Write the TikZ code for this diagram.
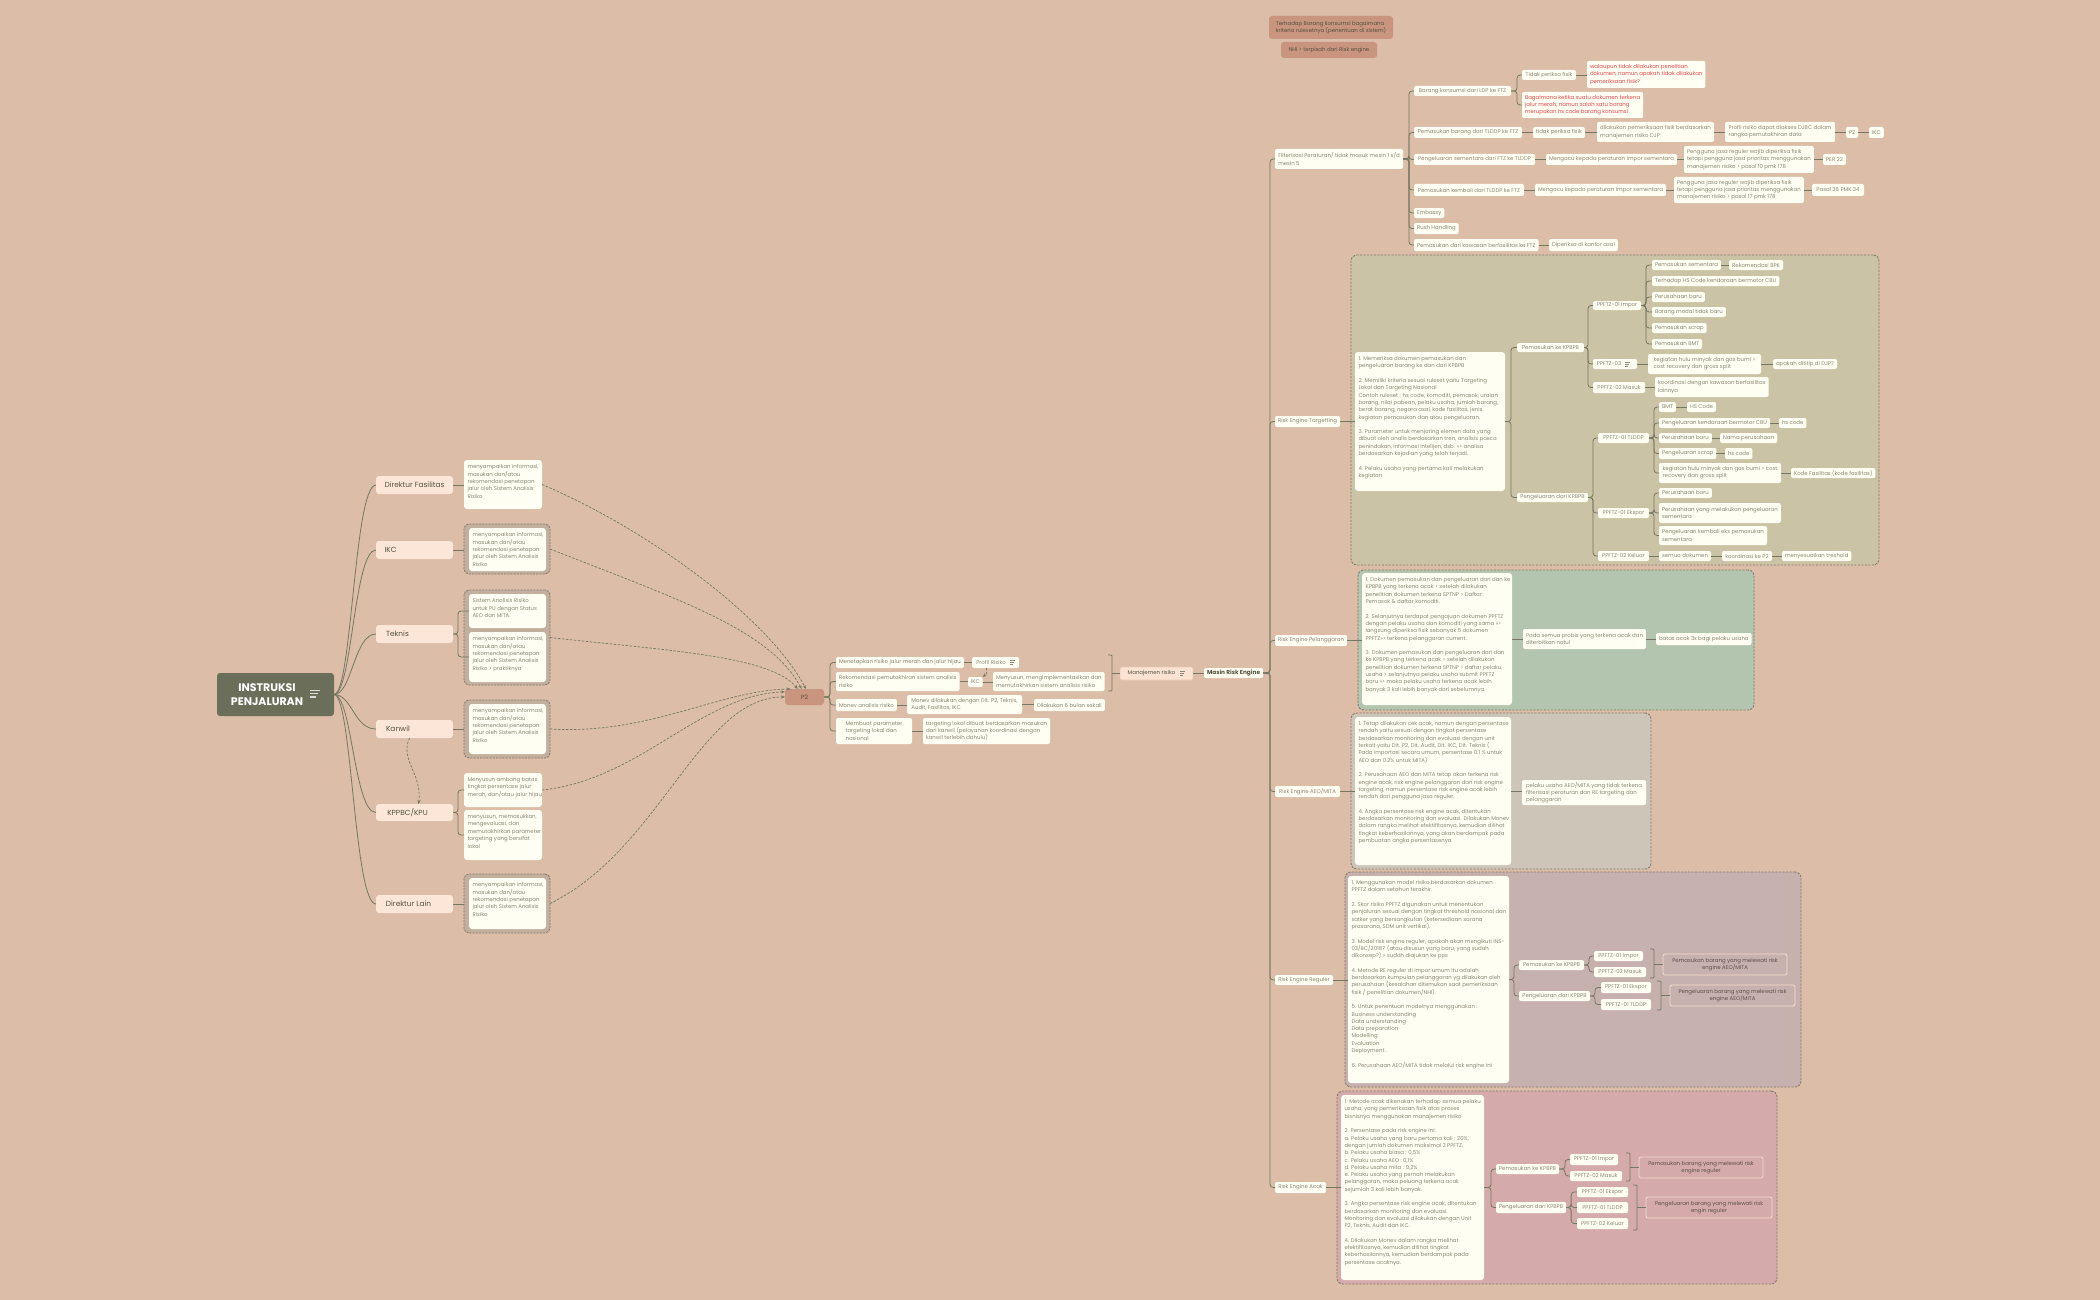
\documentclass[tikz,border=0pt]{standalone}
\usepackage{fontspec}
\setmainfont{Poppins}
\usetikzlibrary{arrows.meta}
\definecolor{bg}{HTML}{DBBDA8}
\definecolor{rootc}{HTML}{6B6F5A}
\definecolor{peach}{HTML}{FCE6D8}
\definecolor{cream}{HTML}{FFFEF2}
\definecolor{framec}{HTML}{C3AF9D}
\definecolor{framed}{HTML}{857B6C}
\definecolor{salmon}{HTML}{C9957E}
\definecolor{conn}{HTML}{767862}
\definecolor{txt}{HTML}{8A8876}
\definecolor{txtd}{HTML}{55523F}
\definecolor{redt}{HTML}{E8474F}
\definecolor{gtarget}{HTML}{CBC3A5}
\definecolor{gpel}{HTML}{B3C5AE}
\definecolor{gaeo}{HTML}{CEC5B9}
\definecolor{greg}{HTML}{C7B1AE}
\definecolor{gacak}{HTML}{D4ABAA}
\definecolor{sumb}{HTML}{F2DCCB}
\definecolor{sumt}{HTML}{5E4D48}
\definecolor{mrfill}{HTML}{FBE3D3}
\definecolor{mrdraw}{HTML}{EEC7B0}
\newcommand\smallfs{\fontsize{5.4}{7.3}\selectfont}
\newcommand\menyptext{menyampaikan informasi,\\masukan dan/atau\\rekomendasi penetapan\\jalur oleh Sistem Analisis\\Risiko}
\tikzset{
 every node/.style={inner sep=0pt,outer sep=0pt},
 sbox/.style={fill=cream,rounded corners=2pt,text=txt,font=\smallfs,align=left,inner xsep=3pt,inner ysep=1pt},
 lnode/.style={fill=peach,text=txtd,font=\fontsize{7.4}{9}\selectfont,rounded corners=3pt},
 p2st/.style={fill=salmon,text=txtd,font=\fontsize{6}{7}\selectfont,rounded corners=3pt},
 topst/.style={fill=salmon,text=txtd,rounded corners=3pt},
 redst/.style={text=redt},
 frm/.style={fill=framec,draw=framed,dash pattern=on 2pt off 1.2pt,line width=0.9pt,rounded corners=5pt},
 grp/.style={draw=framed,dash pattern=on 2.2pt off 1.3pt,line width=0.9pt,rounded corners=6pt},
 notebg/.style={fill=cream,rounded corners=3pt},
 notetxt/.style={text=txt,font=\smallfs,align=left,inner sep=0pt},
 lnotetxt/.style={font=\fontsize{5.4}{7.4}\selectfont},
 sumst/.style={draw=sumb,line width=0.8pt,text=sumt,fill=none,align=center},
 mrst/.style={fill=mrfill,draw=mrdraw,line width=0.6pt,text=txtd},
 cn/.style={draw=conn,line width=0.8pt,rounded corners=3pt},
 dar/.style={draw=conn,line width=0.7pt,dash pattern=on 2.5pt off 1.5pt,-{Stealth[length=4pt,width=3.2pt]}},
}
\newcommand\mbx[7][]{\node[sbox,#1,anchor=north west,minimum width={#5pt-#3pt},minimum height={#6pt-#4pt}] (#2) at (#3,#4) {#7};}
\newcommand\mnote[7][]{\node[notebg,anchor=north west,minimum width={#5pt-#3pt},minimum height={#6pt-#4pt}] (#2) at (#3,#4) {};
 \node[notetxt,#1,anchor=north west] (#2t) at (#3+3.5,#4+4.5) {#7};}
\newcommand\mlk[3]{\draw[cn] (#1.east) -- ++(#3,0) |- (#2.west);}
\newcommand\mst[2]{\draw[cn] (#1.east) -- (#1.east -| #2.west);}
\newcommand\msum[4]{\draw[cn,rounded corners=1pt] (#1-4,#2) -- (#1,#2) -- (#1,#3) -- (#1-4,#3);
 \coordinate (sx) at (#1,0); \draw[cn] (sx |- #4.west) -- (#4.west);}
\newcommand\micon[3]{\draw[#3,line width=0.6pt] (#1,#2-2) -- ++(5,0) (#1,#2) -- ++(4,0) (#1,#2+2) -- ++(3,0);}
\begin{document}
\begin{tikzpicture}[x=1pt,y=-1pt]
\fill[bg] (0,0) rectangle (2100,1300);
\useasboundingbox (0,0) rectangle (2100,1300);
% ---------- groups and frames
\mbx[grp,fill=gtarget]{tgg}{1351}{255}{1879}{565}{}
\mbx[grp,fill=gpel]{plg}{1358}{570}{1754}{710}{}
\mbx[grp,fill=gaeo]{aeog}{1351}{713}{1651}{869}{}
\mbx[grp,fill=greg]{regg}{1345}{872}{1801}{1087}{}
\mbx[grp,fill=gacak]{acg}{1337}{1091}{1777}{1284}{}
\mbx[frm]{ikcf}{464}{524}{550}{574}{}
\mbx[frm]{tekf}{464}{590}{550}{685}{}
\mbx[frm]{kwf}{464}{700}{550}{758}{}
\mbx[frm]{dlf}{464}{874}{550}{933}{}
% ---------- root
\node[fill=rootc,rounded corners=3pt,anchor=north west,minimum width=117pt,minimum height=43pt] (root) at (217,673) {};
\node[font=\fontsize{11}{14}\selectfont\bfseries,text=white,align=center] (roott) at (267,694.5) {INSTRUKSI\\PENJALURAN};
\draw[white!75!rootc,line width=1.3pt] (310,690.5) -- (320,690.5) (310,693.8) -- (318,693.8) (310,697) -- (316,697);
% ---------- left nodes
\mbx[lnode]{df}{376}{476}{453}{494}{Direktur Fasilitas}
\mbx[lnode]{ikc}{376}{541}{453}{559}{IKC\hspace*{48pt}}
\mbx[lnode]{tek}{376}{625}{453}{643}{Teknis\hspace*{34pt}}
\mbx[lnode]{kw}{376}{720}{453}{738}{Kanwil\hspace*{33pt}}
\mbx[lnode]{kp}{376}{804}{453}{821}{KPPBC/KPU\hspace*{14pt}}
\mbx[lnode]{dl}{376}{895}{453}{913}{Direktur Lain\hspace*{12pt}}
\mnote[lnotetxt]{dfn}{464}{460}{542}{509}{\menyptext}
\mnote[lnotetxt]{ikcn}{469}{528}{546}{571}{\menyptext}
\mnote[lnotetxt]{tekn1}{469}{594}{546}{628}{Sistem Analisis Risiko\\untuk PU dengan Status\\AEO dan MITA.}
\mnote[lnotetxt]{tekn2}{469}{632}{546}{682}{menyampaikan informasi,\\masukan dan/atau\\rekomendasi penetapan\\jalur oleh Sistem Analisis\\Risiko > praktiknya}
\mnote[lnotetxt]{kwn}{469}{704}{546}{754}{\menyptext}
\mnote[lnotetxt]{kpn1}{464}{773}{542}{807}{Menyusun ambang batas\\tingkat persentase jalur\\merah, dan/atau jalur hijau}
\mnote[lnotetxt]{kpn2}{464}{810}{542}{860}{menyusun, memasukkan,\\mengevaluasi, dan\\memutakhirkan parameter\\targeting yang bersifat\\lokal}
\mnote[lnotetxt]{dln}{469}{878}{546}{929}{\menyptext}
% ---------- P2
\mbx[p2st]{p2}{785}{689}{824}{705}{P2}
\mbx{c1}{836}{657}{960}{668}{Menetapkan risiko jalur merah dan jalur hijau}
\mbx{profil}{972}{657}{1019}{668}{Profil Risiko\hspace*{9pt}}
\micon{1010}{662.5}{txt}
\mbx{c2}{836}{672}{957}{691}{Rekomendasi pemutakhiran sistem analisis\\risiko}
\mbx{ikc2}{968}{677}{981}{687}{IKC}
\mbx{meny}{993}{672}{1103}{691}{Menyusun, mengimplementasikan dan\\memutakhirkan sistem analisis risiko}
\mbx{c3}{836}{699}{895}{711}{Monev analisis risiko}
\mbx{mon2}{907}{695}{1022}{714}{Monev dilakukan dengan Dit. P2, Teknis,\\Audit, Fasilitas, IKC}
\mbx{enam}{1034}{699}{1103}{711}{Dilakukan 6 bulan sekali}
\mbx{c4}{836}{718}{912}{744}{Membuat parameter\\targeting lokal dan\\nasional}
\mbx{tl}{923}{718}{1048}{744}{targeting lokal dibuat berdasarkan masukan\\dari kanwil (pelayanan koordinasi dengan\\kanwil terlebih dahulu)}
\mbx[mrst]{mr}{1120}{667}{1193}{680}{Manajemen risiko\hspace*{10pt}}
\micon{1180}{673.5}{txt}
\mbx[text=txtd,font=\fontsize{5.8}{7}\selectfont\bfseries]{mre}{1204}{668}{1262}{678}{Masin Risk Engine}
% ---------- top notes
\mbx[topst]{ta}{1269}{16}{1393}{39}{Terhadap Barang konsumsi bagaimana\\kriteria rulesetnya (penentuan di sistem)}
\mbx[topst]{nhi}{1281}{42}{1377}{58}{NHI > terpisah dari Risk engine}
% ---------- Filterisasi
\mbx{fil}{1275}{149}{1403}{169}{Filterisasi Peraturan/ tidak masuk mesin 1 s/d\\mesin 5}
\mbx{bk}{1414}{86}{1511}{96}{Barang konsumsi dari LDP ke FTZ}
\mbx{tpf}{1522}{70}{1576}{80}{Tidak periksa fisik}
\mbx[redst]{red1}{1587}{61}{1705}{88}{walaupun tidak dilakukan penelitian\\dokumen, namun apakah tidak dilakukan\\pemeriksaan fisik?}
\mbx[redst]{red2}{1522}{92}{1643}{118}{Bagaimana ketika suatu dokumen terkena\\jalur merah, namun salah satu barang\\merupakan hs code barang konsumsi}
\mbx{pbt}{1414}{127}{1522}{138}{Pemasukan barang dari TLDDP ke FTZ}
\mbx{tpf2}{1533}{127}{1584}{138}{tidak periksa fisik}
\mbx{dil}{1597}{122}{1714}{142}{dilakukan pemeriksaan fisik berdasarkan\\manajemen risiko DJP}
\mbx{prf}{1725}{122}{1835}{142}{Profil risiko dapat diakses DJBC dalam\\rangka pemutakhiran data}
\mbx{p2b}{1846}{127}{1858}{138}{P2}
\mbx{ikcb}{1869}{127}{1882}{138}{IKC}
\mbx{pst}{1414}{154}{1535}{165}{Pengeluaran sementara dari FTZ ke TLDDP}
\mbx{mg1}{1546}{154}{1673}{165}{Mengacu kepada peraturan impor sementara}
\mbx{pj1}{1684}{146}{1811}{173}{Pengguna jasa reguler wajib diperiksa fisik\\tetapi pengguna jasa prioritas menggunakan\\manajemen risiko > pasal 10 pmk 178}
\mbx{per}{1823}{154}{1846}{165}{PER 22}
\mbx{pkt}{1414}{184}{1524}{196}{Pemasukan kembali dari TLDDP ke FTZ}
\mbx{mg2}{1535}{184}{1663}{196}{Mengacu kepada peraturan impor sementara}
\mbx{pj2}{1674}{177}{1801}{203}{Pengguna jasa reguler wajib diperiksa fisik\\tetapi pengguna jasa prioritas menggunakan\\manajemen risiko > pasal 17 pmk 178}
\mbx{ps36}{1812}{184}{1864}{196}{Pasal 36 PMK 34}
\mbx{emb}{1414}{208}{1442}{218}{Embassy}
\mbx{rush}{1414}{223}{1457}{234}{Rush Handling}
\mbx{pdk}{1414}{239}{1537}{251}{Pemasukan dari kawasan berfasilitas ke FTZ}
\mbx{dik}{1549}{239}{1617}{251}{Diperiksa di kantor asal}
% ---------- Targeting
\mbx{tg}{1275}{416}{1340}{427}{Risk Engine Targetting}
\mnote{tgn}{1355}{352}{1505}{491}{1. Memeriksa dokumen pemasukan dan\\pengeluaran barang ke dan dari KPBPB\\[7.3pt]2. Memiliki kriteria sesuai ruleset yaitu Targeting\\Lokal dan Targeting Nasional\\Contoh ruleset : hs code, komoditi, pemasok, uraian\\barang, nilai pabean, pelaku usaha, jumlah barang,\\berat barang, negara asal, kode fasilitas, jenis\\kegiatan pemasukan dan atau pengeluaran.\\[7.3pt]3. Parameter untuk menjaring elemen data yang\\dibuat oleh analis berdasarkan tren, analisis pasca\\penindakan, informasi intelijen, dsb. >>> analisa\\berdasarkan kejadian yang telah terjadi.\\[7.3pt]4. Pelaku usaha yang pertama kali melakukan\\kegiatan}
\mbx{pmk}{1517}{343}{1584}{352}{Pemasukan ke KPBPB}
\mbx{pgk}{1517}{493}{1588}{502}{Pengeluaran dari KPBPB}
\mbx{imp}{1593}{301}{1641}{310}{PPFTZ-01 Impor}
\mbx{p03}{1593}{359}{1637}{369}{PPFTZ-03\hspace*{12pt}}
\micon{1625}{364}{txt}
\mbx{p02m}{1593}{382}{1645}{393}{PPFTZ-02 Masuk}
\mbx{psm}{1652}{260}{1718}{270}{Pemasukan sementara}
\mbx{bpk}{1729}{260}{1783}{270}{Rekomendasi BPK}
\mbx{hsc}{1652}{276}{1778}{286}{Terhadap HS Code kendaraan bermotor CBU}
\mbx{pb}{1652}{292}{1702}{302}{Perusahaan baru}
\mbx{bm}{1652}{307}{1723}{317}{Barang modal tidak baru}
\mbx{psc}{1652}{323}{1704}{333}{Pemasukan scrap}
\mbx{pbmt}{1652}{339}{1702}{349}{Pemasukan BMT}
\mbx{hulu}{1648}{354}{1761}{374}{kegiatan hulu minyak dan gas bumi >\\cost recovery dan gross split}
\mbx{djp}{1773}{359}{1835}{369}{apakah dititip di DJP?}
\mbx{koo}{1655}{377}{1768}{397}{koordinasi dengan kawasan berfasilitas\\lainnya}
\mbx{tld}{1598}{433}{1649}{443}{PPFTZ-01 TLDDP}
\mbx{eks}{1598}{508}{1649}{518}{PPFTZ-01 Ekspor}
\mbx{kel}{1598}{551}{1649}{561}{PPFTZ-02 Keluar}
\mbx{bmt}{1659}{402}{1676}{412}{BMT}
\mbx{hsa}{1687}{402}{1716}{412}{HS Code}
\mbx{pkb}{1659}{418}{1768}{428}{Pengeluaran kendaraan bermotor CBU}
\mbx{hsb}{1779}{418}{1806}{428}{hs code}
\mbx{pbb}{1659}{433}{1709}{443}{Perusahaan baru}
\mbx{nama}{1720}{433}{1775}{443}{Nama perusahaan}
\mbx{pgs}{1659}{448}{1715}{459}{Pengeluaran scrap}
\mbx{hsd}{1725}{448}{1752}{459}{hs code}
\mbx{hl2}{1659}{463}{1781}{483}{kegiatan hulu minyak dan gas bumi > cost\\recovery dan gross split}
\mbx{kf}{1791}{468}{1875}{478}{Kode Fasilitas (kode fasilitas)}
\mbx{pbc}{1659}{488}{1710}{498}{Perusahaan baru}
\mbx{pyml}{1659}{503}{1776}{523}{Perusahaan yang melakukan pengeluaran\\sementara}
\mbx{pke}{1659}{526}{1767}{545}{Pengeluaran kembali eks pemasukan\\sementara}
\mbx{sd}{1659}{551}{1710}{561}{semua dokumen}
\mbx{kop2}{1722}{551}{1772}{561}{koordinasi ke P2}
\mbx{tre}{1782}{551}{1849}{561}{menyesuaikan treshold}
% ---------- Pelanggaran
\mbx{pl}{1275}{635}{1346}{646}{Risk Engine Pelanggaran}
\mnote{pln}{1362}{573}{1512}{705}{1. Dokumen pemasukan dan pengeluaran dari dan ke\\KPBPB yang terkena acak > setelah dilakukan\\penelitian dokumen terkena SPTNP > Daftar\\Pemasok \& daftar komoditi.\\[7.3pt]2. Selanjutnya terdapat pengajuan dokumen PPFTZ\\dengan pelaku usaha dan komoditi yang sama >>>\\langsung diperiksa fisik sebanyak 5 dokumen\\PPFTZ>>> terkena pelanggaran current.\\[7.3pt]3. Dokumen pemasukan dan pengeluaran dari dan\\ke KPBPB yang terkena acak > setelah dilakukan\\penelitian dokumen terkena SPTNP > daftar pelaku\\usaha > selanjutnya pelaku usaha submit PPFTZ\\baru >>> maka pelaku usaha terkena acak lebih\\banyak 3 kali lebih banyak dari sebelumnya.}
\mbx{probis}{1523}{629}{1645}{649}{Pada semua probis yang terkena acak dan\\diterbitkan notul}
\mbx{batas}{1656}{633}{1749}{645}{batas acak 3x bagi pelaku usaha}
% ---------- AEO
\mbx{aeo}{1275}{786}{1340}{797}{Risk Engine AEO/MITA}
\mnote{aeon}{1355}{717}{1511}{865}{1. Tetap dilakukan cek acak, namun dengan persentase\\rendah yaitu sesuai dengan tingkat persentase\\berdasarkan monitoring dan evaluasi dengan unit\\terkait yaitu Dit. P2, Dit. Audit, Dit. IKC, Dit. Teknis (\\Pada importasi secara umum, persentase 0.1 \% untuk\\AEO dan 0.2\% untuk MITA)\\[7.3pt]2. Perusahaan AEO dan MITA tetap akan terkena risk\\engine acak, risk engine pelanggaran dan risk engine\\targeting, namun persentase risk engine acak lebih\\rendah dari pengguna jasa reguler.\\[7.3pt]4. Angka persentase risk engine acak, ditentukan\\berdasarkan monitoring dan evaluasi. Dilakukan Monev\\dalam rangka melihat efektifitasnya, kemudian dilihat\\tingkat keberhasilannya, yang akan berdampak pada\\pembuatan angka persentasenya.}
\mbx{aeop}{1522}{780}{1646}{805}{pelaku usaha AEO/MITA yang tidak terkena\\filterisasi peraturan dan RE targeting dan\\pelanggaran}
% ---------- Reguler
\mbx{reg}{1275}{975}{1333}{985}{Risk Engine Reguler}
\mnote{regn}{1348}{876}{1509}{1083}{1. Menggunakan model risiko berdasarkan dokumen\\PPFTZ dalam setahun terakhir.\\[7.3pt]2. Skor risiko PPFTZ digunakan untuk menentukan\\penjaluran sesuai dengan tingkat threshold nasional dan\\satker yang bersangkutan (ketersediaan sarana\\prasarana, SDM unit vertikal).\\[7.3pt]3. Model risk engine reguler, apakah akan mengikuti INS-\\03/BC/2018? (atau disusun yang baru, yang sudah\\dikonsep?) >> sudah diajukan ke pps\\[7.3pt]4. Metode RE reguler di impor umum itu adalah\\berdasarkan kumpulan pelanggaran yg dilakukan oleh\\perusahaan (kesalahan ditemukan saat pemeriksaan\\fisik / penelitian dokumen/NHI).\\[7.3pt]5. Untuk penentuan modelnya menggunakan :\\Business understanding\\Data understanding\\Data preparation\\Modelling\\Evaluation\\Deployment .\\[7.3pt]6. Perusahaan AEO/MITA tidak melalui risk engine ini}
\mbx{rpm}{1519}{960}{1584}{970}{Pemasukan ke KPBPB}
\mbx{rpg}{1519}{991}{1590}{1001}{Pengeluaran dari KPBPB}
\mbx{ri}{1594}{951}{1643}{961}{PPFTZ-01 Impor}
\mbx{rm}{1594}{967}{1646}{977}{PPFTZ-02 Masuk}
\mbx{re}{1601}{982}{1651}{993}{PPFTZ-01 Ekspor}
\mbx{rt}{1601}{999}{1651}{1010}{PPFTZ-01 TLDDP}
\mbx[sumst]{rs1}{1663}{954}{1787}{975}{Pemasukan barang yang melewati risk\\engine AEO/MITA}
\mbx[sumst]{rs2}{1670}{985}{1795}{1006}{Pengeluaran barang yang melewati risk\\engine AEO/MITA}
% ---------- Acak
\mbx{acak}{1275}{1182}{1326}{1193}{Risk Engine Acak}
\mnote{acn}{1341}{1095}{1484}{1280}{1. Metode acak dikenakan terhadap semua pelaku\\usaha, yang pemeriksaan fisik atas proses\\bisnisnya menggunakan manajemen risiko\\[7.3pt]2. Persentase pada risk engine ini:\\a. Pelaku usaha yang baru pertama kali : 20\%,\\dengan jumlah dokumen maksimal 2 PPFTZ.\\b. Pelaku usaha biasa : 0,5\%\\c. Pelaku usaha AEO : 0,1\%\\d. Pelaku usaha mita : 0,2\%\\e. Pelaku usaha yang pernah melakukan\\pelanggaran, maka peluang terkena acak\\sejumlah 3 kali lebih banyak.\\[7.3pt]3. Angka persentase risk engine acak, ditentukan\\berdasarkan monitoring dan evaluasi.\\Monitoring dan evaluasi dilakukan dengan Unit\\P2, Teknis, Audit dan IKC.\\[7.3pt]4. Dilakukan Monev dalam rangka melihat\\efektifitasnya, kemudian dilihat tingkat\\keberhasilannya, kemudian berdampak pada\\persentase acaknya.}
\mbx{apm}{1496}{1164}{1559}{1174}{Pemasukan ke KPBPB}
\mbx{apg}{1496}{1202}{1566}{1213}{Pengeluaran dari KPBPB}
\mbx{ai}{1570}{1154}{1618}{1165}{PPFTZ-01 Impor}
\mbx{am}{1570}{1171}{1622}{1181}{PPFTZ-02 Masuk}
\mbx{ae}{1577}{1187}{1628}{1197}{PPFTZ-01 Ekspor}
\mbx{atl}{1577}{1202}{1628}{1213}{PPFTZ-01 TLDDP}
\mbx{ak}{1577}{1218}{1628}{1229}{PPFTZ-02 Keluar}
\mbx[sumst]{as1}{1639}{1157}{1763}{1178}{Pemasukan barang yang melewati risk\\engine reguler}
\mbx[sumst]{as2}{1646}{1197}{1772}{1218}{Pengeluaran barang yang melewati risk\\engin reguler}
% ---------- connectors
\foreach \n in {df,ikc,tek,kw,kp,dl} {\draw[cn] (root.east) .. controls +(18,0) and +(-22,0) .. (\n.west);}
\mst{df}{dfn} \mst{ikc}{ikcf} \mlk{tek}{tekn1}{5} \mlk{tek}{tekn2}{5}
\mst{kw}{kwf} \mlk{kp}{kpn1}{5} \mlk{kp}{kpn2}{5} \mst{dl}{dlf}
\draw[dar] ([xshift=-5pt]kw.south) .. controls +(-10,22) and +(4,-30) .. ([xshift=4pt]kp.north);
\draw[dar] (dfn.east) .. controls (650,530) and (770,620) .. (p2.80);
\draw[dar] (ikcf.east) .. controls (680,600) and (770,630) .. (p2.110);
\draw[dar] (tekf.east) .. controls (660,650) and (770,655) .. (p2.130);
\draw[dar] (kwf.east) .. controls (650,735) and (720,690) .. (p2.150);
\draw[dar] (kpn1.east) .. controls (640,780) and (700,695) .. (p2.165);
\draw[dar] (dlf.east) .. controls (660,850) and (700,697) .. (p2.180);
\foreach \n in {c1,c2,c3,c4} {\mlk{p2}{\n}{6}}
\mst{c1}{profil} \mst{c2}{ikc2} \mst{ikc2}{meny} \mst{c3}{mon2} \mst{mon2}{enam} \mst{c4}{tl}
\draw[dar] ([xshift=-9pt]profil.south) .. controls +(0,5) and +(5,-4) .. (ikc2.north east);
\msum{1112}{655}{691}{mr}
\mst{mr}{mre}
\foreach \n in {fil,tg,pl,aeo,reg,acak} {\mlk{mre}{\n}{7}}
\foreach \n in {bk,pbt,pst,pkt,emb,rush,pdk} {\mlk{fil}{\n}{6}}
\mlk{bk}{tpf}{6} \mlk{bk}{red2}{6} \mst{tpf}{red1}
\mst{pbt}{tpf2} \mst{tpf2}{dil} \mst{dil}{prf} \mst{prf}{p2b} \mst{p2b}{ikcb}
\mst{pst}{mg1} \mst{mg1}{pj1} \mst{pj1}{per}
\mst{pkt}{mg2} \mst{mg2}{pj2} \mst{pj2}{ps36}
\mst{pdk}{dik}
\mst{tg}{tgn} \mlk{tgn}{pmk}{6} \mlk{tgn}{pgk}{6}
\foreach \n in {imp,p03,p02m} {\mlk{pmk}{\n}{4}}
\foreach \n in {psm,hsc,pb,bm,psc,pbmt} {\mlk{imp}{\n}{5}}
\mst{psm}{bpk} \mst{p03}{hulu} \mst{hulu}{djp} \mst{p02m}{koo}
\foreach \n in {tld,eks,kel} {\mlk{pgk}{\n}{5}}
\foreach \n in {bmt,pkb,pbb,pgs,hl2} {\mlk{tld}{\n}{5}}
\mst{bmt}{hsa} \mst{pkb}{hsb} \mst{pbb}{nama} \mst{pgs}{hsd} \mst{hl2}{kf}
\foreach \n in {pbc,pyml,pke} {\mlk{eks}{\n}{5}}
\mst{kel}{sd} \mst{sd}{kop2} \mst{kop2}{tre}
\mst{pl}{pln} \mst{pln}{probis} \mst{probis}{batas}
\mst{aeo}{aeon} \mst{aeon}{aeop}
\mst{reg}{regn} \mlk{regn}{rpm}{5} \mlk{regn}{rpg}{5}
\mlk{rpm}{ri}{5} \mlk{rpm}{rm}{5} \mlk{rpg}{re}{5} \mlk{rpg}{rt}{5}
\msum{1654}{949}{978}{rs1} \msum{1661}{981}{1010}{rs2}
\mst{acak}{acn} \mlk{acn}{apm}{7} \mlk{acn}{apg}{7}
\mlk{apm}{ai}{6} \mlk{apm}{am}{6} \mlk{apg}{ae}{5} \mlk{apg}{atl}{5} \mlk{apg}{ak}{5}
\msum{1630}{1153}{1181}{as1} \msum{1637}{1185}{1230}{as2}
\end{tikzpicture}
\end{document}
